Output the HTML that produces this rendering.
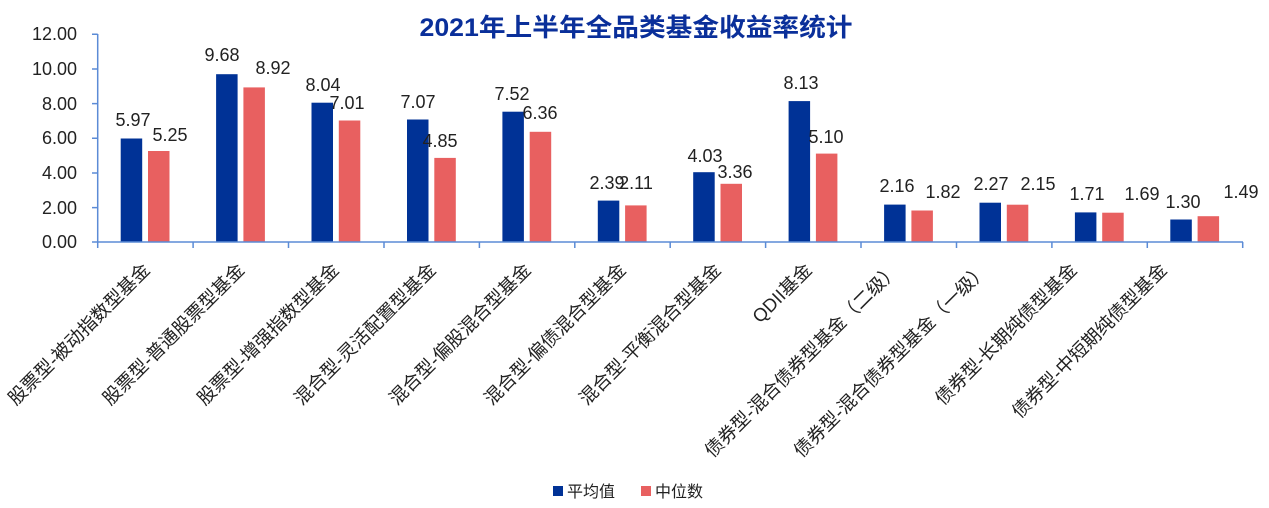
<!DOCTYPE html>
<html><head><meta charset="utf-8"><style>
html,body{margin:0;padding:0;background:#fff;}
svg{display:block;font-family:"Liberation Sans","Noto Sans CJK SC",sans-serif;}
</style></head><body>
<svg width="1269" height="508" viewBox="0 0 1269 508" xmlns="http://www.w3.org/2000/svg">
<text x="636" y="36" text-anchor="middle" font-size="25" font-weight="bold" fill="#0a2f9a" textLength="433" lengthAdjust="spacingAndGlyphs">2021年上半年全品类基金收益率统计</text>
<g font-size="18" fill="#222" text-anchor="end">
<text x="77" y="40">12.00</text>
<text x="77" y="75">10.00</text>
<text x="77" y="110">8.00</text>
<text x="77" y="144">6.00</text>
<text x="77" y="179">4.00</text>
<text x="77" y="214">2.00</text>
<text x="77" y="248">0.00</text>
</g>
<g fill="#003296">
<rect x="120.7" y="138.5" width="21.5" height="103.5"/>
<rect x="216.1" y="74.2" width="21.5" height="167.8"/>
<rect x="311.5" y="102.7" width="21.5" height="139.3"/>
<rect x="407.0" y="119.5" width="21.5" height="122.5"/>
<rect x="502.4" y="111.7" width="21.5" height="130.3"/>
<rect x="597.8" y="200.6" width="21.5" height="41.4"/>
<rect x="693.2" y="172.2" width="21.5" height="69.8"/>
<rect x="788.6" y="101.1" width="21.5" height="140.9"/>
<rect x="884.1" y="204.6" width="21.5" height="37.4"/>
<rect x="979.5" y="202.7" width="21.5" height="39.3"/>
<rect x="1074.9" y="212.4" width="21.5" height="29.6"/>
<rect x="1170.3" y="219.5" width="21.5" height="22.5"/>
</g>
<g fill="#e86060">
<rect x="148.0" y="151.0" width="21.5" height="91.0"/>
<rect x="243.4" y="87.4" width="21.5" height="154.6"/>
<rect x="338.8" y="120.5" width="21.5" height="121.5"/>
<rect x="434.3" y="157.9" width="21.5" height="84.1"/>
<rect x="529.7" y="131.8" width="21.5" height="110.2"/>
<rect x="625.1" y="205.4" width="21.5" height="36.6"/>
<rect x="720.5" y="183.8" width="21.5" height="58.2"/>
<rect x="815.9" y="153.6" width="21.5" height="88.4"/>
<rect x="911.4" y="210.5" width="21.5" height="31.5"/>
<rect x="1006.8" y="204.7" width="21.5" height="37.3"/>
<rect x="1102.2" y="212.7" width="21.5" height="29.3"/>
<rect x="1197.6" y="216.2" width="21.5" height="25.8"/>
</g>
<g stroke="#5b8bd6" stroke-width="1.5" fill="none">
<line x1="97.7" y1="34" x2="97.7" y2="242"/>
<line x1="97.7" y1="242" x2="1243" y2="242"/>
<path d="M92 34.3h5.7M92 69h5.7M92 103.6h5.7M92 138.3h5.7M92 173h5.7M92 207.6h5.7M92 242h5.7"/>
<path d="M97.7 242v6M193.1 242v6M288.5 242v6M384 242v6M479.4 242v6M574.8 242v6M670.2 242v6M765.6 242v6M861 242v6M956.5 242v6M1051.9 242v6M1147.3 242v6M1242.7 242v6"/>
</g>
<g font-size="18" fill="#222" text-anchor="middle">
<text x="133" y="126">5.97</text><text x="170" y="141">5.25</text>
<text x="222" y="61">9.68</text><text x="273" y="74">8.92</text>
<text x="323" y="91">8.04</text><text x="347" y="109">7.01</text>
<text x="418" y="108">7.07</text><text x="440" y="147">4.85</text>
<text x="512" y="100">7.52</text><text x="540" y="119">6.36</text>
<text x="607" y="189">2.39</text><text x="636" y="189">2.11</text>
<text x="705" y="162">4.03</text><text x="735" y="178">3.36</text>
<text x="801" y="89">8.13</text><text x="826" y="143">5.10</text>
<text x="897" y="192">2.16</text><text x="943" y="198">1.82</text>
<text x="991" y="190">2.27</text><text x="1038" y="190">2.15</text>
<text x="1087" y="200">1.71</text><text x="1142" y="200">1.69</text>
<text x="1183" y="208">1.30</text><text x="1241" y="198">1.49</text>
</g>
<g font-size="18.5" fill="#222" text-anchor="end">
<text transform="translate(151,271) rotate(-45)">股票型-被动指数型基金</text>
<text transform="translate(245.5,271) rotate(-45)">股票型-普通股票型基金</text>
<text transform="translate(340,271) rotate(-45)">股票型-增强指数型基金</text>
<text transform="translate(437,271) rotate(-45)">混合型-灵活配置型基金</text>
<text transform="translate(532,271) rotate(-45)">混合型-偏股混合型基金</text>
<text transform="translate(627,271) rotate(-45)">混合型-偏债混合型基金</text>
<text transform="translate(722,271) rotate(-45)">混合型-平衡混合型基金</text>
<text transform="translate(813,271) rotate(-45)">QDII基金</text>
<text transform="translate(900,271) rotate(-45)">债券型-混合债券型基金（二级）</text>
<text transform="translate(989,271) rotate(-45)">债券型-混合债券型基金（一级）</text>
<text transform="translate(1078,271) rotate(-45)">债券型-长期纯债型基金</text>
<text transform="translate(1168,271) rotate(-45)">债券型-中短期纯债型基金</text>
</g>
<rect x="553" y="486" width="10" height="10" fill="#003296"/>
<text x="567" y="497" font-size="16" fill="#222">平均值</text>
<rect x="641" y="486" width="10" height="10" fill="#e86060"/>
<text x="655" y="497" font-size="16" fill="#222">中位数</text>
</svg>
</body></html>
